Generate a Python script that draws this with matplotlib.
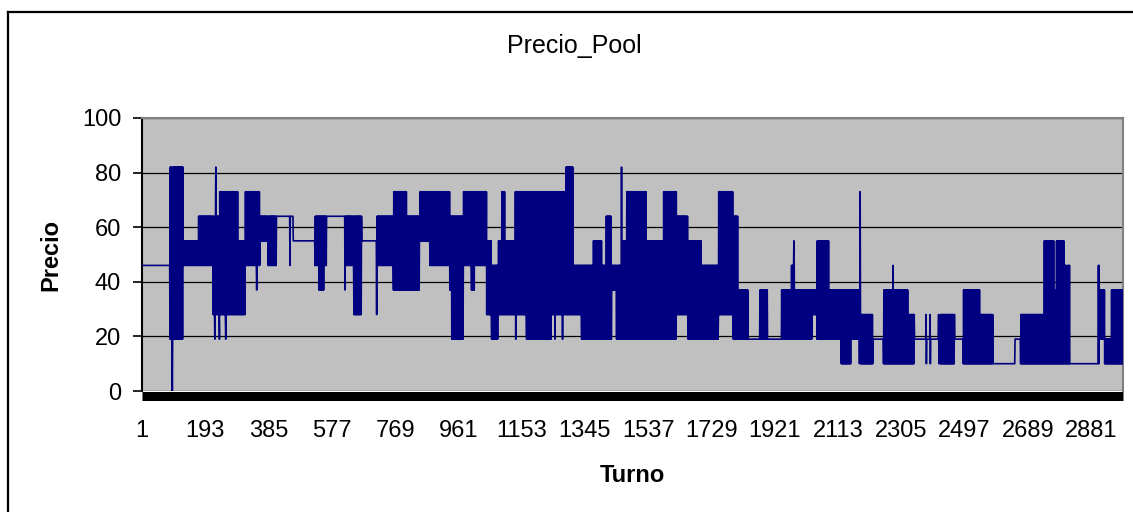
import numpy as np
import matplotlib
matplotlib.use("Agg")
import matplotlib.pyplot as plt
from matplotlib.lines import Line2D

plt.rcParams["font.family"] = ["Liberation Sans", "DejaVu Sans"]

# ---- data -------------------------------------------------------------
n_turns = 2976

# Price regimes: from each start turn the price swings between a low and a high level
seg_start = [1, 86, 126, 172, 217, 236, 293, 314, 359, 384, 410, 460, 526, 538, 554,
             561, 617, 644, 668, 713, 764, 804, 844, 875, 935, 941, 976, 1001, 1011,
             1047, 1062, 1082, 1092, 1102, 1133, 1168, 1244, 1287, 1310, 1335, 1370,
             1396, 1409, 1426, 1441, 1459, 1471, 1532, 1583, 1623, 1658, 1699, 1750,
             1795, 1810, 1840, 1875, 1900, 1941, 1971, 1981, 2035, 2049, 2086, 2123,
             2153, 2178, 2219, 2251, 2325, 2345, 2423, 2467, 2493, 2543, 2584, 2649,
             2667, 2738, 2768, 2775, 2800, 2806, 2810, 2816, 2902, 2906, 2922, 2942]
seg_low = [46, 19, 46, 46, 28, 28, 28, 46, 55, 46, 64, 55, 46, 37, 46,
           64, 46, 28, 55, 46, 37, 37, 55, 46, 37, 19, 46, 37, 46,
           28, 19, 28, 28, 28, 28, 19, 28, 28, 28, 19, 19,
           19, 19, 37, 19, 19, 19, 19, 19, 28, 19, 19, 28,
           19, 19, 19, 19, 19, 19, 19, 19, 28, 19, 19, 10,
           19, 10, 19, 10, 10, 19, 10, 19, 10, 10, 10, 19,
           10, 10, 10, 10, 10, 10, 10, 10, 10, 19, 10, 10]
seg_high = [46, 82, 55, 64, 64, 73, 55, 73, 64, 64, 64, 55, 64, 64, 64,
            64, 64, 64, 55, 64, 73, 64, 73, 73, 64, 64, 73, 73, 73,
            55, 46, 55, 73, 55, 73, 73, 73, 82, 46, 46, 55,
            46, 64, 46, 46, 55, 73, 55, 73, 64, 55, 46, 73,
            64, 37, 19, 37, 19, 37, 46, 37, 37, 55, 37, 37,
            37, 28, 19, 37, 28, 19, 28, 19, 37, 28, 10, 19,
            28, 55, 37, 55, 46, 37, 46, 10, 46, 37, 19, 37]

# Isolated single-turn prices
spike_turn = [93, 222, 225, 236, 255, 349, 450, 617, 713, 1135, 1254, 1277, 1456,
              1979, 2180, 2280, 2380, 2381, 2392, 2393, 2418, 2419, 2649]
spike_value = [0, 19, 82, 19, 19, 37, 46, 37, 28, 19, 19, 19, 82,
               55, 73, 46, 28, 10, 28, 10, 28, 10, 10]

x_tick_labels = ["1", "193", "385", "577", "769", "961", "1153", "1345", "1537",
                 "1729", "1921", "2113", "2305", "2497", "2689", "2881"]
y_ticks = [0, 20, 40, 60, 80, 100]

# ---- build the series -------------------------------------------------
turns = np.arange(1, n_turns + 1)
precio = np.empty(n_turns)
seg_end = seg_start[1:] + [n_turns + 1]
for s, e, lo, hi in zip(seg_start, seg_end, seg_low, seg_high):
    idx = np.arange(s, e)
    precio[idx - 1] = np.where((idx - s) % 2 == 0, lo, hi)
for t, v in zip(spike_turn, spike_value):
    precio[t - 1] = v

# ---- figure -----------------------------------------------------------
W, H = 1133, 512
fig = plt.figure(figsize=(W / 100, H / 100), dpi=100)
fig.patch.set_facecolor("white")

ax = fig.add_axes([142 / W, 1 - 391 / H, (1122.5 - 142) / W, (391 - 118) / H])
ax.set_facecolor("#C0C0C0")

ax.plot(turns, precio, color="#000080", lw=1.2, zorder=3)

ax.set_xlim(1, n_turns)
ax.set_ylim(0, 100)
ax.set_xticks([int(s) for s in x_tick_labels])
ax.set_xticklabels(x_tick_labels)
ax.set_yticks(y_ticks)

ax.yaxis.grid(True, color="black", lw=0.9)
ax.set_axisbelow(True)

for side in ("top", "right"):
    ax.spines[side].set_color("#808080")
    ax.spines[side].set_linewidth(1.5)
ax.spines["left"].set_color("black")
ax.spines["left"].set_linewidth(1.5)
ax.spines["bottom"].set_color("black")
ax.spines["bottom"].set_linewidth(6.5)
ax.spines["bottom"].set_position(("outward", 3.25))
ax.spines["bottom"].set_capstyle("butt")

ax.tick_params(axis="y", direction="out", length=6.5, width=1.2, pad=8.5,
               labelsize=17, colors="black")
ax.tick_params(axis="x", length=0, pad=17.5, labelsize=17, colors="black")

fig.text(574 / W, 1 - 46 / H, "Precio_Pool", ha="center", va="center", fontsize=18)
fig.text(51 / W, 1 - 255 / H, "Precio", rotation=90, ha="center", va="center",
         fontsize=17, fontweight="bold")
fig.text(632 / W, 1 - 475 / H, "Turno", ha="center", va="center",
         fontsize=17, fontweight="bold")

# chart area frame (left and top edges)
fig.add_artist(Line2D([8 / W, 8 / W], [0, 1 - 12 / H], color="black", lw=1.6,
                      transform=fig.transFigure))
fig.add_artist(Line2D([8 / W, 1], [1 - 12 / H, 1 - 12 / H], color="black", lw=1.6,
                      transform=fig.transFigure))

fig.savefig("out.png", dpi=100)
